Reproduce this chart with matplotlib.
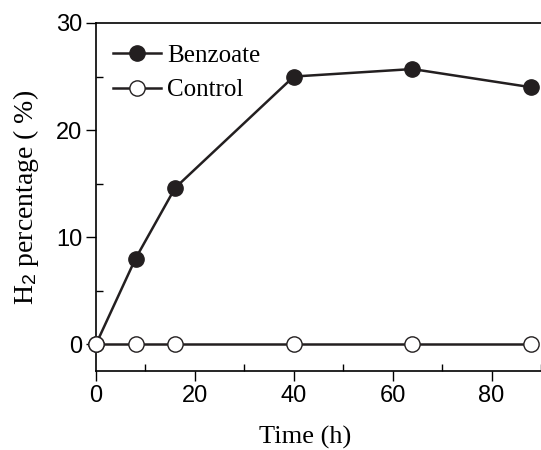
import matplotlib
matplotlib.use("Agg")
import matplotlib.pyplot as plt
from matplotlib.ticker import MultipleLocator

time_h = [0, 8, 16, 40, 64, 88]
benzoate = [0, 8.0, 14.6, 25.0, 25.7, 24.0]
control = [0, 0, 0, 0, 0, 0]

plt.rcParams['mathtext.fontset'] = 'custom'
plt.rcParams['mathtext.rm'] = 'Liberation Sans'
plt.rcParams['mathtext.it'] = 'Liberation Serif:italic'

fig = plt.figure(figsize=(5.41, 4.5), dpi=100)
ax = fig.add_axes([96/541, 1-371/450, 1-96/541, (371-23)/450])

ax.plot(time_h, benzoate, '-o', color='#231f20', lw=1.8, ms=11,
        mfc='#231f20', mec='#231f20', label='Benzoate', clip_on=False, zorder=3)
ax.plot(time_h, control, '-o', color='#231f20', lw=1.8, ms=11,
        mfc='white', mec='#231f20', mew=1.0, label='Control', clip_on=False, zorder=3)

ax.set_xlim(0, 90)
ax.set_ylim(-2.5, 30)
ax.xaxis.set_major_locator(MultipleLocator(20))
ax.xaxis.set_minor_locator(MultipleLocator(10))
ax.yaxis.set_major_locator(MultipleLocator(10))
ax.yaxis.set_minor_locator(MultipleLocator(5))
ax.tick_params(which='major', direction='out', length=7, width=1, labelsize=17, pad=3)
ax.tick_params(which='minor', direction='in', length=5, width=1)
for lab in ax.get_xticklabels() + ax.get_yticklabels():
    lab.set_fontfamily('Liberation Sans')
ax.spines['right'].set_visible(False)
for s in ['left', 'bottom', 'top']:
    ax.spines[s].set_linewidth(1.2)

ax.set_xlabel('Time (h)', family='Liberation Serif', fontsize=19)
ax.xaxis.set_label_coords((305-96)/445, -(437-371)/348)
ax.xaxis.label.set_va('center')
ax.set_ylabel('H$_2$ percentage ( %)', family='Liberation Serif', fontsize=20)
ax.yaxis.set_label_coords(-(96-26)/445, 0.5)
ax.yaxis.label.set_va('center')

leg = ax.legend(loc='upper left', frameon=False, prop={'family': 'Liberation Serif', 'size': 18},
                handlelength=1.9, handletextpad=0.25, labelspacing=0.5,
                borderaxespad=0, borderpad=0,
                bbox_to_anchor=((113-96)/445, 1 - (44-23)/348))

fig.savefig('out.png', dpi=100)
